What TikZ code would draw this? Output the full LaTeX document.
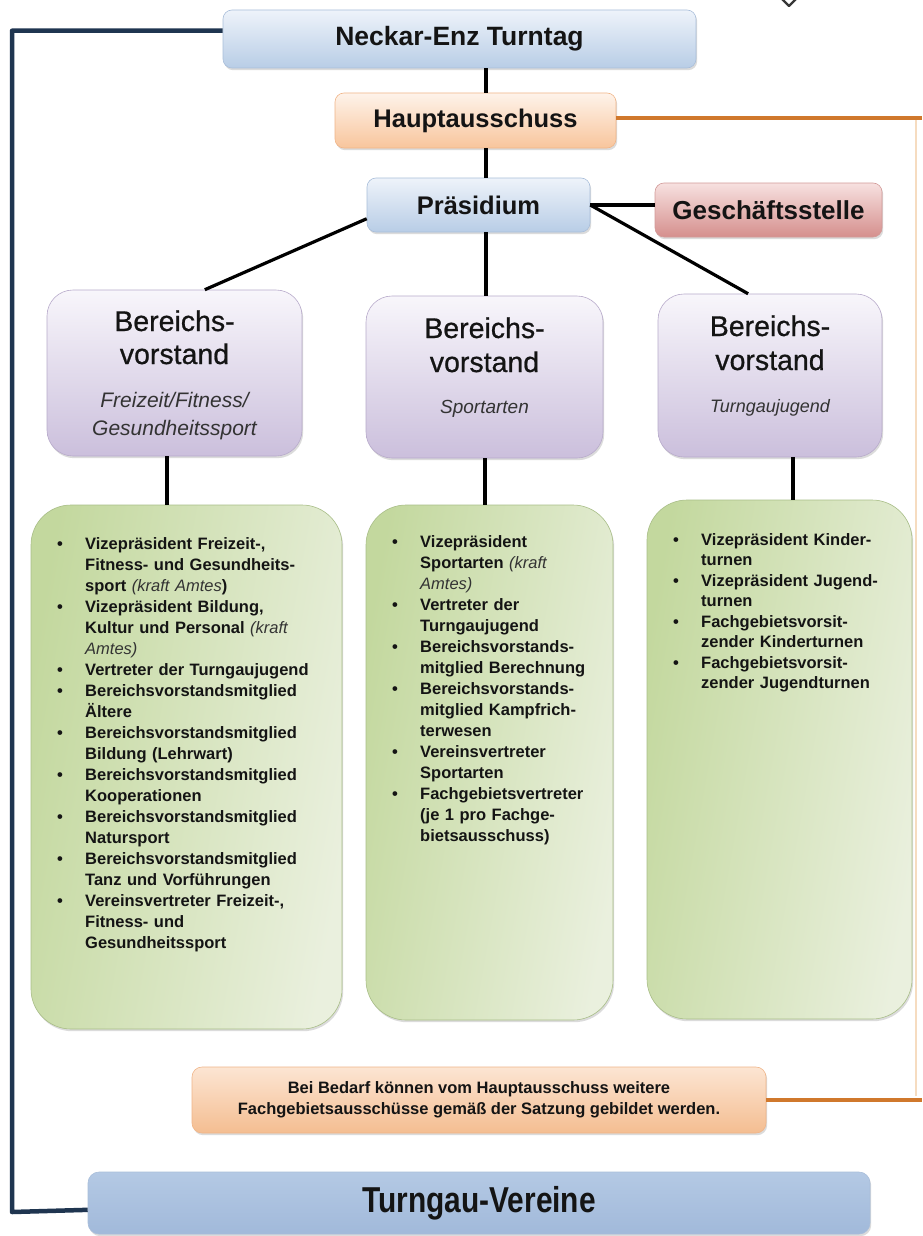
\documentclass[tikz,border=0pt]{standalone}
\usepackage{fontspec}
\setmainfont{Liberation Sans}
\newfontfamily\tgfont[FakeStretch=0.83]{Liberation Sans}
\newfontfamily\medfont[FakeBold=0.7]{Liberation Sans}
\usetikzlibrary{shadows}
\definecolor{blueT}{HTML}{EEF3FA}
\definecolor{blueB}{HTML}{B8CDE6}
\definecolor{blueD}{HTML}{A9BEDA}
\definecolor{orT}{HTML}{FEF3EA}
\definecolor{orB}{HTML}{F8C59C}
\definecolor{orD}{HTML}{F0B588}
\definecolor{redT}{HTML}{F7E1E0}
\definecolor{redB}{HTML}{D58F8D}
\definecolor{redD}{HTML}{D29A98}
\definecolor{puT}{HTML}{F8F6FB}
\definecolor{puB}{HTML}{CBBFDC}
\definecolor{puD}{HTML}{B8ABCB}
\definecolor{grL}{HTML}{C3D89E}
\definecolor{grR}{HTML}{EAF0DE}
\definecolor{grD}{HTML}{A9BE88}
\definecolor{tgT}{HTML}{B4C9E4}
\definecolor{tgM}{HTML}{E0E9F4}
\definecolor{tgB}{HTML}{A1B9DA}
\definecolor{navy}{HTML}{1F3550}
\definecolor{orline}{HTML}{D0782C}
\definecolor{orfaint}{HTML}{F6DCC0}
\definecolor{txt}{HTML}{141414}
\definecolor{subtxt}{HTML}{333333}
\newcommand\kraft[1]{{\mdseries\itshape\color{subtxt}#1}}
\newcommand\li[1]{\par\noindent\hangindent=28pt\hangafter=1\strut\makebox[28pt][l]{\textbullet}{\let\\\newline#1}\par}
\tikzset{
  shad/.style={drop shadow={shadow xshift=1.2pt,shadow yshift=-2.2pt,opacity=0.28}},
  topbox/.style={rounded corners=9pt, line width=0.6pt, inner sep=0pt, shad, text=txt,
                 font=\bfseries\fontsize{25.5}{30}\selectfont},
  bluebox/.style={topbox, draw=blueD, top color=blueT, bottom color=blueB},
  orbox/.style={topbox, draw=orD, top color=orT, bottom color=orB},
  redbox/.style={topbox, draw=redD, top color=redT, bottom color=redB},
  pubox/.style={rounded corners=26pt, line width=0.6pt, inner sep=0pt, shad, draw=puD,
                top color=puT, bottom color=puB},
  grbox/.style={rounded corners=40pt, line width=0.6pt, inner sep=0pt, shad, draw=grD,
                left color=grL, right color=grR, shading angle=80},
  ttl/.style={anchor=base, inner sep=0pt, text=txt, font=\medfont\fontsize{28.5}{34}\selectfont},
  sub/.style={anchor=base, inner sep=0pt, text=subtxt, font=\itshape\fontsize{#1}{28}\selectfont},
  listtext/.style={anchor=north west, inner sep=0pt, text width=280pt, align=left, text=txt,
                   font=\bfseries\fontsize{16.5}{21}\selectfont},
  conn/.style={line width=3.2pt, black},
}
\begin{document}
\begin{tikzpicture}[x=1pt,y=-1pt,line join=round]
\useasboundingbox (0,0) rectangle (922,1236);
\fill[white] (0,0) rectangle (922,1236);

% partial icon at top edge
\draw[line width=2.2pt, txt!85] (781,-2) -- (789,6) -- (797,-2);

% top boxes
\node[bluebox, font=\bfseries\fontsize{26.5}{30}\selectfont, minimum width=473pt, minimum height=58pt] (turntag) at (459.5,39) {Neckar-Enz Turntag};
\node[orbox, minimum width=281pt, minimum height=55pt] (haupt) at (475.5,120.5) {Hauptausschuss};
\node[bluebox, minimum width=223pt, minimum height=54pt] (praes) at (478.5,205) {Präsidium};
\node[redbox, font=\bfseries\fontsize{26}{30}\selectfont, minimum width=227pt, minimum height=54pt] (gesch) at (768.5,210) {Geschäftsstelle};

% Bereichsvorstand boxes
\node[pubox, minimum width=255pt, minimum height=166pt] (bvL) at (174.5,373) {};
\node[pubox, minimum width=237pt, minimum height=162pt] (bvM) at (484.5,377) {};
\node[pubox, minimum width=224pt, minimum height=163pt] (bvR) at (770,375.5) {};

\node[ttl] (bvLa) at (174.5,331) {Bereichs-};
\node[ttl] (bvLb) at (174.5,364) {vorstand};
\node[sub=21] (bvLc) at (174.5,407) {Freizeit/Fitness/};
\node[sub=21] (bvLd) at (174.5,435) {Gesundheitssport};

\node[ttl] (bvMa) at (484.5,338) {Bereichs-};
\node[ttl] (bvMb) at (484.5,372) {vorstand};
\node[sub=19] (bvMc) at (484.5,413) {Sportarten};

\node[ttl] (bvRa) at (770,336) {Bereichs-};
\node[ttl] (bvRb) at (770,370) {vorstand};
\node[sub=18] (bvRc) at (770,412) {Turngaujugend};

% green member boxes
\node[grbox, minimum width=311pt, minimum height=524pt] (grL) at (186.5,767) {};
\node[grbox, minimum width=247pt, minimum height=515pt] (grM) at (489.5,762.5) {};
\node[grbox, minimum width=265pt, minimum height=519pt] (grR) at (779.5,759.5) {};

\node[listtext] (lstL) at (57,528.3) {%
\li{Vizepräsident Freizeit-,\\Fitness- und Gesundheits-\\sport \kraft{(kraft Amtes})}%
\li{Vizepräsident Bildung,\\Kultur und Personal \kraft{(kraft}\\\kraft{Amtes)}}%
\li{Vertreter der Turngaujugend}%
\li{Bereichsvorstandsmitglied\\Ältere}%
\li{Bereichsvorstandsmitglied\\Bildung (Lehrwart)}%
\li{Bereichsvorstandsmitglied\\Kooperationen}%
\li{Bereichsvorstandsmitglied\\Natursport}%
\li{Bereichsvorstandsmitglied\\Tanz und Vorführungen}%
\li{Vereinsvertreter Freizeit-,\\Fitness- und\\Gesundheitssport}};

\node[listtext, text width=220pt] (lstM) at (392,526.3) {%
\li{Vizepräsident\\Sportarten \kraft{(kraft}\\\kraft{Amtes)}}%
\li{Vertreter der\\Turngaujugend}%
\li{Bereichsvorstands-\\mitglied Berechnung}%
\li{Bereichsvorstands-\\mitglied Kampfrich-\\terwesen}%
\li{Vereinsvertreter\\Sportarten}%
\li{Fachgebietsvertreter\\(je 1 pro Fachge-\\bietsausschuss)}};

\node[listtext, text width=235pt, font=\bfseries\fontsize{16.5}{20.5}\selectfont] (lstR) at (673,524.3) {%
\li{Vizepräsident Kinder-\\turnen}%
\li{Vizepräsident Jugend-\\turnen}%
\li{Fachgebietsvorsit-\\zender Kinderturnen}%
\li{Fachgebietsvorsit-\\zender Jugendturnen}};

% bottom boxes
\node[orbox, rounded corners=10pt, draw=orD, top color=orT!70!orB, bottom color=orB!90!orline,
      minimum width=574pt, minimum height=66pt, align=center,
      font=\bfseries\fontsize{16.5}{21.5}\selectfont] (bedarf) at (479,1100)
      {Bei Bedarf können vom Hauptausschuss weitere\\Fachgebietsausschüsse gemäß der Satzung gebildet werden.};
\node[topbox, rounded corners=11pt, draw=blueD, top color=tgT, middle color=tgM, bottom color=tgB,
      minimum width=782pt, minimum height=62pt,
      font=\tgfont\bfseries\fontsize{36}{40}\selectfont] (turngau) at (479,1203) {Turngau-Vereine};

% connectors
\coordinate (cx) at (486,0);
\draw[conn] (cx |- turntag.south) -- (cx |- haupt.north);
\draw[conn] (cx |- haupt.south) -- (cx |- praes.north);
\draw[conn] (praes.east) -- (praes.east -| gesch.west);
\draw[conn] (praes.187) -- (bvL.70);
\draw[conn] (cx |- praes.south) -- (cx |- bvM.north);
\draw[conn] (praes.east) -- (bvR.105);
\coordinate (cL) at (167,0);
\coordinate (cM) at (485,0);
\coordinate (cR) at (793,0);
\draw[conn] (cL |- bvL.south) -- (cL |- grL.north);
\draw[conn] (cM |- bvM.south) -- (cM |- grM.north);
\draw[conn] (cR |- bvR.south) -- (cR |- grR.north);

% navy frame line
\coordinate (navyBot) at (12,1212);
\draw[navy, line width=4.5pt] (turntag.178.3) -| (navyBot) -- (turngau.181.3);

% orange line
\coordinate (oEdge) at (922,0);
\coordinate (oV1) at (916,117);
\coordinate (oV2) at (916,1096);
\draw[orfaint, line width=1.6pt] (oV1) -- (oV2);
\draw[orline, line width=3.2pt] (haupt.1.5) -- (haupt.1.5 -| oEdge);
\draw[orline, line width=3.2pt] (bedarf.0.8) -- (bedarf.0.8 -| oEdge);
\end{tikzpicture}
\end{document}
